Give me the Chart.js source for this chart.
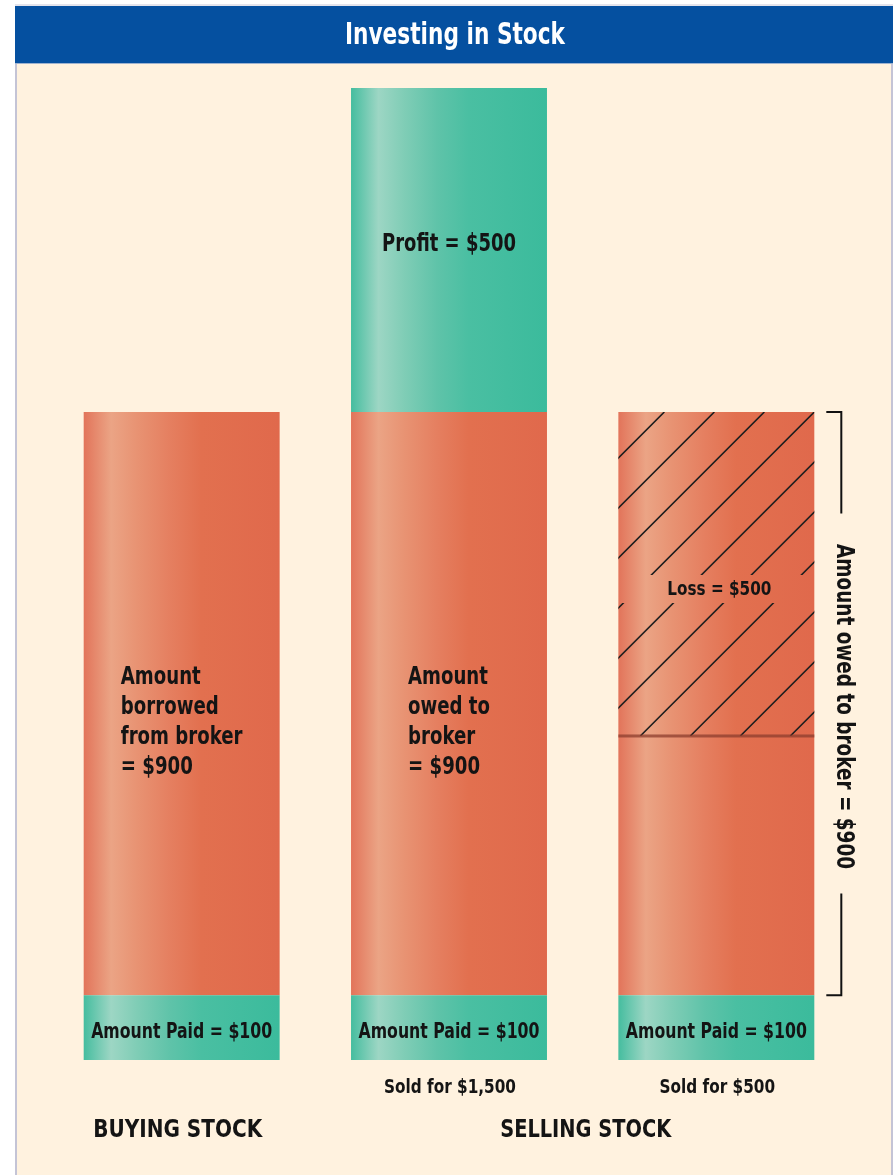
<!DOCTYPE html>
<html>
<head>
<meta charset="utf-8">
<title>Investing in Stock</title>
<script src="https://cdn.jsdelivr.net/npm/chart.js@4.4.1/dist/chart.umd.min.js"></script>
<style>
  html, body { margin: 0; padding: 0; background: #ffffff; }
  #wrap { position: relative; width: 895px; height: 1175px; }
  canvas { display: block; }
</style>
</head>
<body>
<div id="wrap"><canvas id="c" width="895" height="1175"></canvas></div>
<script>
// ---------------- data ----------------
const chartTitle = 'Investing in Stock';
const categories = ['Buying stock', 'Selling stock at $1,500', 'Selling stock at $500'];
const amountPaid = [100, 100, 100];
const amountOwed = [900, 900, 400];   // unhatched part of the $900 owed
const lossPart   = [0, 0, 500];       // hatched part of the $900 owed (loss)
const profit     = [0, 500, 0];

const paidLabels   = ['Amount Paid = $100', 'Amount Paid = $100', 'Amount Paid = $100'];
const owedLabels   = [['Amount', 'borrowed', 'from broker', '= $900'], ['Amount', 'owed to', 'broker', '= $900'], null];
const profitLabels = [null, 'Profit = $500', null];
const lossLabels   = [null, null, 'Loss = $500'];
const soldLabels   = [null, 'Sold for $1,500', 'Sold for $500'];
const groupLabels  = ['BUYING STOCK', 'SELLING STOCK'];
const bracketLabel = 'Amount owed to broker = $900';

// ---------------- styles ----------------
const F = "'DejaVu Sans Condensed','DejaVu Sans',sans-serif";
const CONDENSE = 0.77;   // horizontal squeeze to imitate a condensed bold face
const BAR_PCT = 0.733;
const ORANGE_STOPS = [[0,'#e2745a'],[0.14,'#eba485'],[0.27,'#e89373'],[0.44,'#e57f60'],[0.6,'#e2704f'],[1,'#e0694c']];
const TEAL_STOPS   = [[0,'#45bd9f'],[0.14,'#9dd6c4'],[0.27,'#80cdb6'],[0.44,'#5fc3a9'],[0.6,'#4abfa2'],[1,'#3bbb9c']];

function grad(ctx, stops) {
  const chart = ctx.chart;
  const xs = chart.scales && chart.scales.x;
  if (!xs || !chart.chartArea || ctx.dataIndex === undefined) return stops[stops.length - 1][1];
  const cx = xs.getPixelForValue(ctx.dataIndex);
  const w = (xs.width / categories.length) * BAR_PCT;
  const g = chart.ctx.createLinearGradient(cx - w / 2, 0, cx + w / 2, 0);
  stops.forEach(s => g.addColorStop(s[0], s[1]));
  return g;
}

// draw condensed text: font size sets the height, sx squeezes the width
function txt(ctx, s, x, y, size, align, color, sx) {
  ctx.save();
  ctx.font = 'bold ' + size + 'px ' + F;
  ctx.fillStyle = color || '#141414';
  ctx.textAlign = align || 'center';
  ctx.textBaseline = 'middle';
  ctx.translate(x, y);
  ctx.scale(sx || CONDENSE, 1);
  ctx.fillText(s, 0, 0);
  ctx.restore();
}
function squeezeFor(ctx, s, size, targetWidth) {
  ctx.font = 'bold ' + size + 'px ' + F;
  return targetWidth / ctx.measureText(s).width;
}

function props(chart, ds, i) {
  return chart.getDatasetMeta(ds).data[i].getProps(['x', 'y', 'base', 'width'], true);
}

const framePlugin = {
  id: 'frame',
  beforeDraw(chart) {
    const c = chart.ctx;
    c.save();
    c.fillStyle = '#ffffff'; c.fillRect(0, 0, chart.width, chart.height);
    c.fillStyle = '#e4e4ec'; c.fillRect(15, 4, 878, 2);
    c.fillStyle = '#0550a0'; c.fillRect(15, 6, 878, 58);
    c.fillStyle = '#9fb3cf'; c.fillRect(15, 63, 878, 1);
    c.fillStyle = '#fff2df'; c.fillRect(15, 64, 878, chart.height - 64);
    c.fillStyle = '#c4c4d6'; c.fillRect(15, 64, 2, chart.height - 64); c.fillRect(891, 64, 2, chart.height - 64);
    txt(c, chartTitle, 455, 36, 30, 'center', '#ffffff', squeezeFor(c, chartTitle, 30, 220));
    c.restore();
  }
};

const annotatePlugin = {
  id: 'annotate',
  afterDatasetsDraw(chart) {
    const c = chart.ctx;
    const ys = chart.scales.y;
    c.save();

    // hatching on the loss segment
    lossPart.forEach((v, i) => {
      if (!v) return;
      const p = props(chart, 2, i);
      const left = p.x - p.width / 2, top = Math.min(p.y, p.base), bot = Math.max(p.y, p.base);
      const h = bot - top;
      c.save();
      c.beginPath();
      c.rect(left, top, p.width, 163);
      c.rect(left, top + 191, p.width, h - 191);
      c.clip();
      c.strokeStyle = '#1e1e1e'; c.lineWidth = 1.6;
      c.beginPath();
      for (let k = -12; k < 12; k++) {
        const xt = left + 46 + k * 50;
        c.moveTo(xt, top); c.lineTo(xt - h, bot);
      }
      c.stroke();
      c.restore();
      c.fillStyle = 'rgba(140,62,45,0.75)';
      c.fillRect(left, bot - 1.5, p.width, 3);
      if (lossLabels[i]) txt(c, lossLabels[i], p.x + 3, top + 178, 20, 'center', null, squeezeFor(c, lossLabels[i], 20, 104));
    });

    // paid labels
    paidLabels.forEach((s, i) => {
      const p = props(chart, 0, i);
      txt(c, s, p.x, (p.y + p.base) / 2 + 5, 22, 'center', null, squeezeFor(c, s, 22, 181));
    });

    // owed labels (left aligned block centred on the bar)
    owedLabels.forEach((lines, i) => {
      if (!lines) return;
      const p = props(chart, 1, i);
      const sx = squeezeFor(c, lines[0], 24, 80);
      c.font = 'bold 24px ' + F;
      const w = Math.max(...lines.map(l => c.measureText(l).width)) * sx;
      const mid = (p.y + p.base) / 2 + 19;
      lines.forEach((l, j) => txt(c, l, p.x - w / 2, mid + (j - (lines.length - 1) / 2) * 30, 24, 'left', null, sx));
    });

    // profit labels
    profitLabels.forEach((s, i) => {
      if (!s) return;
      const p = props(chart, 3, i);
      txt(c, s, p.x, (p.y + p.base) / 2 - 5, 24, 'center', null, squeezeFor(c, s, 24, 134));
    });

    // sold labels and group labels
    const y0 = ys.getPixelForValue(0);
    soldLabels.forEach((s, i) => {
      if (!s) return;
      const p = props(chart, 0, i);
      txt(c, s, p.x + 1, y0 + 28, 20, 'center', null, squeezeFor(c, 'Sold for $1,500', 20, 132));
    });
    const b0 = props(chart, 0, 0), b1 = props(chart, 0, 1), b2 = props(chart, 0, 2);
    txt(c, groupLabels[0], b0.x - 4, y0 + 70, 25, 'center', null, squeezeFor(c, groupLabels[0], 25, 169));
    txt(c, groupLabels[1], (b1.x + b2.x) / 2 + 3, y0 + 70, 25, 'center', null, squeezeFor(c, groupLabels[1], 25, 171));

    // bracket for amount owed on the last bar
    const bx = b2.x + b2.width / 2 + 27;
    const bt = ys.getPixelForValue(amountPaid[2] + amountOwed[2] + lossPart[2]);
    const bb = ys.getPixelForValue(amountPaid[2]);
    const bm = (bt + bb) / 2;
    c.strokeStyle = '#111111'; c.lineWidth = 2;
    c.beginPath();
    c.moveTo(bx - 15, bt); c.lineTo(bx, bt); c.lineTo(bx, bm - 190);
    c.moveTo(bx, bm + 190); c.lineTo(bx, bb); c.lineTo(bx - 15, bb);
    c.stroke();
    c.save();
    c.translate(bx + 2.5, bm + 3);
    c.rotate(Math.PI / 2);
    txt(c, bracketLabel, 0, 0, 25, 'center', null, squeezeFor(c, bracketLabel, 25, 325));
    c.restore();

    c.restore();
  }
};

new Chart(document.getElementById('c'), {
  type: 'bar',
  data: {
    labels: categories,
    datasets: [
      { label: 'Amount paid', data: amountPaid, backgroundColor: ctx => grad(ctx, TEAL_STOPS) },
      { label: 'Amount owed', data: amountOwed, backgroundColor: ctx => grad(ctx, ORANGE_STOPS) },
      { label: 'Loss', data: lossPart, backgroundColor: ctx => grad(ctx, ORANGE_STOPS) },
      { label: 'Profit', data: profit, backgroundColor: ctx => grad(ctx, TEAL_STOPS) }
    ]
  },
  options: {
    responsive: false,
    animation: false,
    devicePixelRatio: 1,
    layout: { padding: { left: 48, right: 45, top: 62, bottom: 115 } },
    datasets: { bar: { barPercentage: BAR_PCT, categoryPercentage: 1, borderWidth: 0, stack: 's' } },
    scales: {
      x: { display: false, stacked: true },
      y: { display: false, stacked: true, min: 0, max: 1540 }
    },
    plugins: {
      legend: { display: false },
      tooltip: { enabled: false },
      title: { display: false, text: chartTitle }
    }
  },
  plugins: [framePlugin, annotatePlugin]
});
</script>
</body>
</html>
